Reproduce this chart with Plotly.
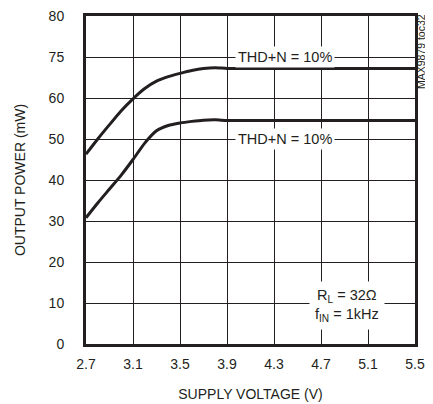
import plotly.graph_objects as go

# ---- data ----
voltage = [2.7, 2.8, 2.9, 3.0, 3.1, 3.2, 3.3, 3.4, 3.5, 3.6, 3.7, 3.8, 3.9, 4.1, 4.5, 5.0, 5.5]
power_upper = [46.3, 50.0, 53.5, 56.9, 59.8, 62.3, 64.1, 65.2, 66.0, 66.7, 67.2, 67.4, 67.2, 67.2, 67.2, 67.2, 67.2]
power_lower = [30.8, 34.4, 37.8, 41.2, 45.0, 49.0, 52.0, 53.3, 53.9, 54.3, 54.6, 54.7, 54.5, 54.5, 54.5, 54.5, 54.5]

x_tickvals = [2.7, 3.1, 3.5, 3.9, 4.3, 4.7, 5.1, 5.5]
x_ticktext = ["2.7", "3.1", "3.5", "3.9", "4.3", "4.7", "5.1", "5.5"]
y_tickvals = [0, 10, 20, 30, 40, 50, 60, 70, 80]
y_ticktext = ["0", "10", "20", "30", "40", "50", "60", "75", "80"]

curve_label = "THD+N = 10%"
cond_label = "R<sub>L</sub> = 32Ω<br>f<sub>IN</sub> = 1kHz"
fig_id = "MAX9879 toc32"

FONT = "Liberation Sans, Arial, sans-serif"
TXT = "#231f20"

fig = go.Figure()
for ys in (power_upper, power_lower):
    fig.add_trace(go.Scatter(
        x=voltage, y=ys, mode="lines",
        line=dict(color="#231f20", width=3, shape="spline", smoothing=0.6),
        showlegend=False, hoverinfo="skip",
    ))

ann_font = dict(family=FONT, size=14.5, color=TXT)
fig.add_annotation(x=4.39, y=70, text=curve_label, showarrow=False,
                   font=ann_font, bgcolor="white", borderpad=2)
fig.add_annotation(x=4.39, y=50, text=curve_label, showarrow=False,
                   font=ann_font, bgcolor="white", borderpad=2)
fig.add_annotation(x=4.92, y=9.5, text=cond_label, showarrow=False,
                   font=ann_font, bgcolor="white", borderpad=5, align="center")
fig.add_annotation(xref="paper", yref="paper", x=1.0, y=0.89,
                   xanchor="center", yanchor="middle", xshift=6,
                   text=fig_id, textangle=-90, showarrow=False,
                   font=dict(family=FONT, size=10.5, color=TXT))

axis_common = dict(
    showline=True, mirror=True, linecolor="#231f20", linewidth=3,
    showgrid=True, gridcolor="#231f20", gridwidth=1,
    zeroline=False, ticks="", automargin=False, ticklabeloverflow="allow",
    tickfont=dict(family=FONT, size=14, color=TXT),
    title_font=dict(family=FONT, size=14, color=TXT),
)

fig.update_xaxes(range=[2.7, 5.5], tickmode="array", tickvals=x_tickvals,
                 ticktext=x_ticktext, ticklabelstandoff=5,
                 title_text="SUPPLY VOLTAGE (V)", title_standoff=19, **axis_common)
fig.update_yaxes(range=[0, 80], tickmode="array", tickvals=y_tickvals,
                 ticktext=y_ticktext, ticklabelstandoff=16,
                 title_text="OUTPUT POWER (mW)", title_standoff=20, **axis_common)

# the page body adds an 8px offset, so the figure is sized/margined to compensate
fig.update_layout(
    width=425, height=396,
    margin=dict(l=78, r=18, t=8, b=60),
    paper_bgcolor="white", plot_bgcolor="white",
    font=dict(family=FONT, color=TXT),
)

fig.write_html("out.html")
